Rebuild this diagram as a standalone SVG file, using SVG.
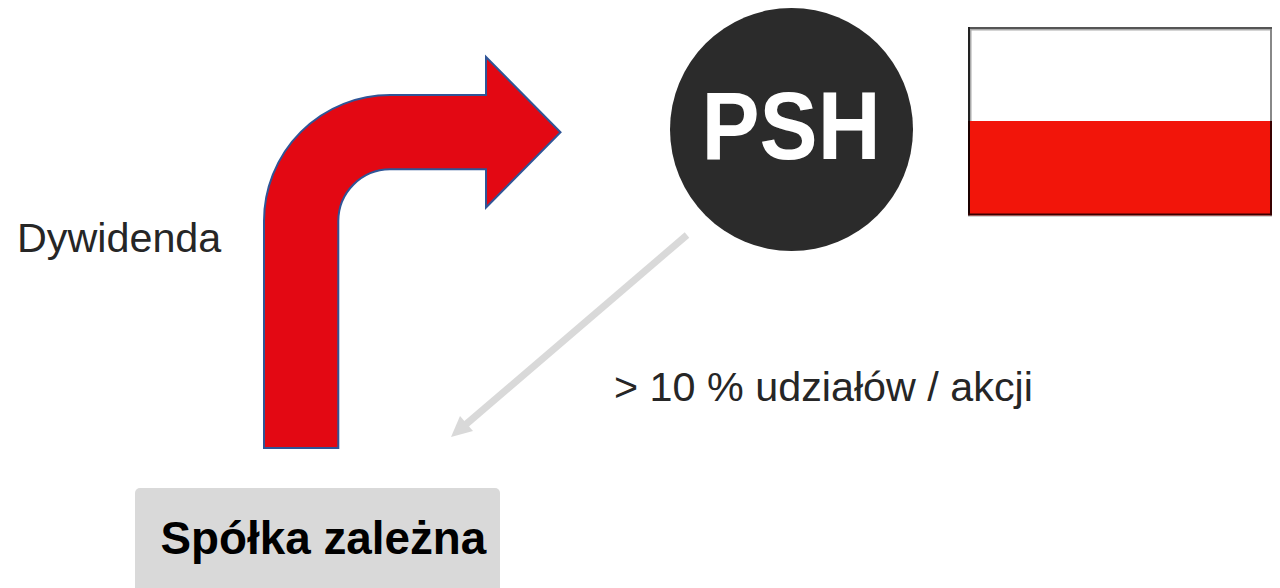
<svg xmlns="http://www.w3.org/2000/svg" width="1280" height="588" viewBox="0 0 1280 588">
<style>
text{font-family:"Liberation Sans",Arial,sans-serif}
.lbl{font-size:41.3px;fill:#262626}
</style>
<rect width="1280" height="588" fill="#fff"/>
<g id="connectors">
<line x1="687" y1="235" x2="464" y2="426" stroke="#d9d9d9" stroke-width="7"/>
<polygon points="451,437 460,416 473,431" fill="#d9d9d9"/>
</g>
<g id="dividend-arrow">
<path d="M264,448V221A126,126 0 0 1 390,95H486V57L560.500,132.300L486,207.500V169.300H390A52,52 0 0 0 338.300,221V448Z" fill="#e30813" stroke="#2f5597" stroke-width="2"/>
</g>
<g id="psh">
<circle cx="791.500" cy="129.500" r="121.500" fill="#2b2b2b"/>
<text transform="translate(791,159) scale(.99,1.09)" font-size="88" font-weight="700" fill="#fff" text-anchor="middle">PSH</text>
</g>
<g id="flag">
<rect x="968" y="27" width="304" height="94" fill="#fff"/>
<rect x="968" y="121" width="304" height="95" fill="#f2150a"/>
<path d="M968,27H1272V121H1270V29H970V121H968Z" fill="#555"/>
<path d="M970,29H1270V30.500H971.500V121H970Z" fill="#aaa"/>
<path d="M1270,29H1272V121H1270Z" fill="#888"/>
<path d="M968,27H970V121H968Z" fill="#222"/>
<path d="M968,121H970V216H968Z" fill="#1a0000"/>
<path d="M1270,121H1272V216H1270Z" fill="#3a0000"/>
<path d="M968,213.500H1272V215.500H968Z" fill="#3a0000"/>
<path d="M968,215.500H1272V216.500H968Z" fill="#aaa"/>
</g>
<g id="subsidiary">
<rect x="135" y="488" width="365" height="110" rx="5" fill="#d9d9d9"/>
<text x="160.500" y="553.800" font-size="45.800" font-weight="700" fill="#000">Spółka zależna</text>
</g>
<g id="labels">
<text class="lbl" x="17" y="252">Dywidenda</text>
<text class="lbl" x="614" y="401">&gt; 10 % udziałów / akcji</text>
</g>
</svg>
